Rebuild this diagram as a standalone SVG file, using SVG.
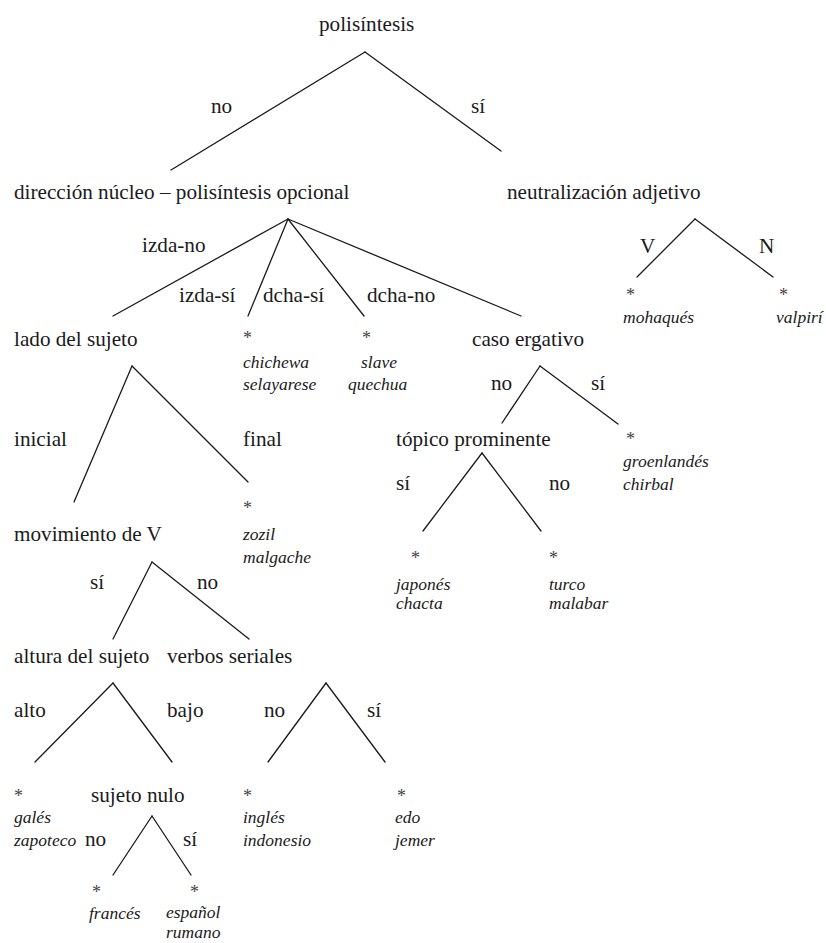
<svg xmlns="http://www.w3.org/2000/svg" width="826" height="943" viewBox="0 0 826 943">
  <style>
    .lbl { font-family: "Liberation Serif", "Times New Roman", serif; font-size: 21.2px; fill: #1a1a1a; }
    .lang { font-family: "Liberation Serif", "Times New Roman", serif; font-size: 17.5px; font-style: italic; fill: #1a1a1a; }
    .star { font-family: "Liberation Serif", "Times New Roman", serif; font-size: 18px; fill: #444; }
    .edge { stroke: #1a1a1a; stroke-width: 1.3; fill: none; stroke-linecap: round; }
  </style>
  <rect width="826" height="943" fill="#ffffff"/>

  <!-- branches -->
  <g id="connectors">
    <line class="edge" x1="365" y1="52" x2="171" y2="170"/>
    <line class="edge" x1="365" y1="52" x2="501" y2="151"/>
    <line class="edge" x1="288" y1="219" x2="113" y2="316"/>
    <line class="edge" x1="288" y1="219" x2="248" y2="316"/>
    <line class="edge" x1="288" y1="219" x2="364" y2="316"/>
    <line class="edge" x1="288" y1="219" x2="521" y2="316"/>
    <line class="edge" x1="695" y1="219" x2="637" y2="277"/>
    <line class="edge" x1="695" y1="219" x2="773" y2="277"/>
    <line class="edge" x1="132" y1="366" x2="74" y2="502"/>
    <line class="edge" x1="132" y1="366" x2="248" y2="482"/>
    <line class="edge" x1="540" y1="366" x2="502" y2="423"/>
    <line class="edge" x1="540" y1="366" x2="618" y2="424"/>
    <line class="edge" x1="482" y1="453" x2="423" y2="531"/>
    <line class="edge" x1="482" y1="453" x2="541" y2="531"/>
    <line class="edge" x1="152" y1="562" x2="113" y2="639"/>
    <line class="edge" x1="152" y1="562" x2="249" y2="639"/>
    <line class="edge" x1="113" y1="683" x2="35" y2="762"/>
    <line class="edge" x1="113" y1="683" x2="172" y2="762"/>
    <line class="edge" x1="326" y1="683" x2="268" y2="762"/>
    <line class="edge" x1="326" y1="683" x2="385" y2="762"/>
    <line class="edge" x1="152" y1="816" x2="113" y2="875"/>
    <line class="edge" x1="152" y1="816" x2="191" y2="875"/>
  </g>

  <!-- branch values -->
  <g id="branch-labels">
    <text class="lbl" x="211" y="113">no</text>
    <text class="lbl" x="471" y="113">sí</text>
    <text class="lbl" x="142" y="252">izda-no</text>
    <text class="lbl" x="179" y="302">izda-sí</text>
    <text class="lbl" x="263" y="302">dcha-sí</text>
    <text class="lbl" x="367" y="302">dcha-no</text>
    <text class="lbl" x="640" y="253">V</text>
    <text class="lbl" x="759" y="253">N</text>
    <text class="lbl" x="14" y="446">inicial</text>
    <text class="lbl" x="243" y="446">final</text>
    <text class="lbl" x="491" y="390">no</text>
    <text class="lbl" x="591" y="390">sí</text>
    <text class="lbl" x="396" y="490">sí</text>
    <text class="lbl" x="549" y="490">no</text>
    <text class="lbl" x="90" y="589">sí</text>
    <text class="lbl" x="197" y="589">no</text>
    <text class="lbl" x="14" y="717">alto</text>
    <text class="lbl" x="167" y="717">bajo</text>
    <text class="lbl" x="264" y="717">no</text>
    <text class="lbl" x="367" y="717">sí</text>
    <text class="lbl" x="85" y="846">no</text>
    <text class="lbl" x="183" y="846">sí</text>
  </g>

  <!-- parameters -->
  <g id="n-polisintesis"><text class="lbl" x="319" y="31">polisíntesis</text></g>
  <g id="n-direccion"><text class="lbl" x="14" y="199">dirección núcleo – polisíntesis opcional</text></g>
  <g id="n-neutralizacion"><text class="lbl" x="507" y="199">neutralización adjetivo</text></g>
  <g id="n-lado"><text class="lbl" x="14" y="346">lado del sujeto</text></g>
  <g id="n-ergativo"><text class="lbl" x="472" y="346">caso ergativo</text></g>
  <g id="n-topico"><text class="lbl" x="396" y="446">tópico prominente</text></g>
  <g id="n-movimiento"><text class="lbl" x="14" y="541">movimiento de V</text></g>
  <g id="n-altura"><text class="lbl" x="14" y="663">altura del sujeto</text></g>
  <g id="n-seriales"><text class="lbl" x="167" y="663">verbos seriales</text></g>
  <g id="n-nulo"><text class="lbl" x="91" y="802">sujeto nulo</text></g>

  <!-- languages -->
  <g id="l-mohaques">
    <text class="star" x="626" y="301">*</text>
    <text class="lang" x="623" y="323">mohaqués</text>
  </g>
  <g id="l-valpiri">
    <text class="star" x="779" y="301">*</text>
    <text class="lang" x="776" y="323">valpirí</text>
  </g>
  <g id="l-chichewa">
    <text class="star" x="243" y="344">*</text>
    <text class="lang" x="243" y="368">chichewa</text>
    <text class="lang" x="243" y="390">selayarese</text>
  </g>
  <g id="l-slave">
    <text class="star" x="362" y="344">*</text>
    <text class="lang" x="361" y="368">slave</text>
    <text class="lang" x="348" y="390">quechua</text>
  </g>
  <g id="l-groenlandes">
    <text class="star" x="626" y="445">*</text>
    <text class="lang" x="623" y="467">groenlandés</text>
    <text class="lang" x="623" y="490">chirbal</text>
  </g>
  <g id="l-zozil">
    <text class="star" x="243" y="514">*</text>
    <text class="lang" x="243" y="540">zozil</text>
    <text class="lang" x="243" y="563">malgache</text>
  </g>
  <g id="l-japones">
    <text class="star" x="411" y="564">*</text>
    <text class="lang" x="396" y="590">japonés</text>
    <text class="lang" x="396" y="609">chacta</text>
  </g>
  <g id="l-turco">
    <text class="star" x="549" y="564">*</text>
    <text class="lang" x="549" y="590">turco</text>
    <text class="lang" x="549" y="609">malabar</text>
  </g>
  <g id="l-gales">
    <text class="star" x="14" y="802">*</text>
    <text class="lang" x="14" y="823">galés</text>
    <text class="lang" x="14" y="846">zapoteco</text>
  </g>
  <g id="l-ingles">
    <text class="star" x="243" y="802">*</text>
    <text class="lang" x="243" y="823">inglés</text>
    <text class="lang" x="243" y="846">indonesio</text>
  </g>
  <g id="l-edo">
    <text class="star" x="397" y="802">*</text>
    <text class="lang" x="395" y="823">edo</text>
    <text class="lang" x="395" y="846">jemer</text>
  </g>
  <g id="l-frances">
    <text class="star" x="92" y="898">*</text>
    <text class="lang" x="89" y="919">francés</text>
  </g>
  <g id="l-espanol">
    <text class="star" x="190" y="898">*</text>
    <text class="lang" x="166" y="918">español</text>
    <text class="lang" x="166" y="938">rumano</text>
  </g>
</svg>
